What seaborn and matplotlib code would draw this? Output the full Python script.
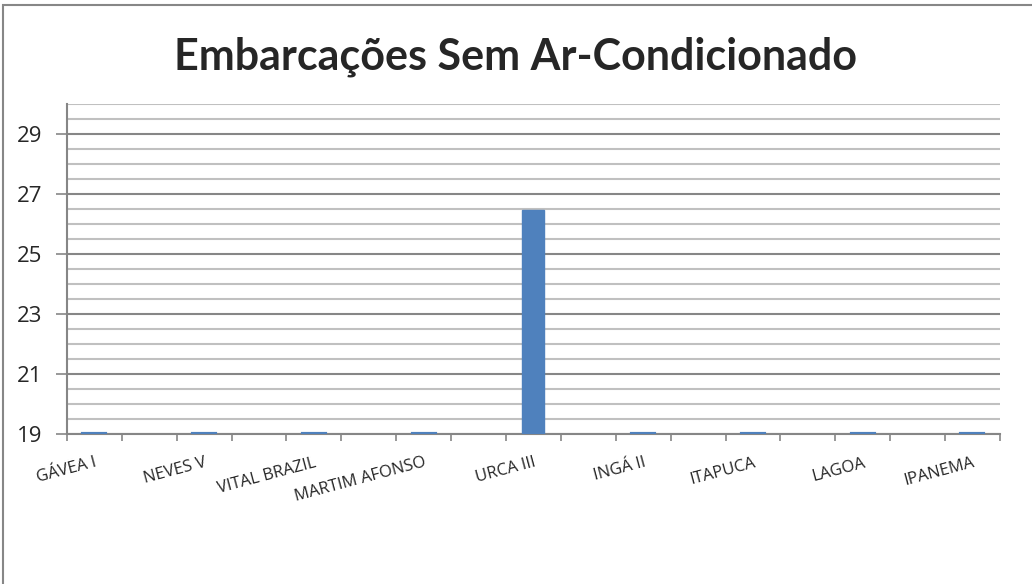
import numpy as np
import pandas as pd
import matplotlib
matplotlib.use("Agg")
import matplotlib.pyplot as plt
from matplotlib.ticker import MultipleLocator, FixedLocator
import seaborn as sns

# 17 category slots; Excel only printed every other label
labels = ["GÁVEA I", "", "NEVES V", "", "VITAL BRAZIL", "", "MARTIM AFONSO", "",
          "URCA III", "", "INGÁ II", "", "ITAPUCA", "", "LAGOA", "", "IPANEMA"]
values = [19.0, np.nan, 19.0, np.nan, 19.0, np.nan, 19.0, np.nan,
          26.45, np.nan, 19.0, np.nan, 19.0, np.nan, 19.0, np.nan, 19.0]
y_ticks = [19, 21, 23, 25, 27, 29]
y_min, y_max = 19, 30

df = pd.DataFrame({"slot": range(len(labels)), "valor": values})

sns.set_style("white")
plt.rcParams['font.family'] = ['Lato', 'DejaVu Sans']

fig = plt.figure(figsize=(10.32, 5.84), dpi=100)
ax = fig.add_axes([0.0649, 0.257, 0.904, 0.565])

sns.barplot(data=df, x="slot", y="valor", order=list(range(len(labels))),
            color="#4F81BD", saturation=1, width=0.4, ax=ax,
            edgecolor="#4F81BD", linewidth=1, errorbar=None, zorder=4)

# bars sitting on the axis minimum: thicker edge so they show as a thin line
for p in ax.patches:
    if p.get_height() <= y_min:
        p.set_linewidth(3)

ax.set_ylim(y_min, y_max)
ax.set_xlim(-0.5, len(labels) - 0.5)
ax.yaxis.set_major_locator(FixedLocator(y_ticks))
ax.yaxis.set_minor_locator(MultipleLocator(0.5))
ax.grid(which="major", axis="y", color="#868686", linewidth=1.5)
ax.grid(which="minor", axis="y", color="#c0c0c0", linewidth=1.5)
ax.set_axisbelow(True)

ax.set_xticks(range(len(labels)))
ax.set_xticklabels(labels, rotation=15, ha="right", rotation_mode="anchor",
                   fontsize=12, family=["Open Sans", "DejaVu Sans"])
ax.xaxis.set_minor_locator(FixedLocator(np.arange(-0.5, len(labels), 1)))
ax.tick_params(axis="x", which="major", length=0, pad=15)
ax.tick_params(axis="x", which="minor", length=5, width=1.2, color="#868686",
               direction="out", bottom=True)
ax.tick_params(axis="y", which="major", length=8, width=1.2, color="#868686",
               direction="out", left=True, labelsize=16, pad=10)
ax.tick_params(axis="y", which="minor", length=0)
for t in ax.get_yticklabels():
    t.set_family(["Open Sans", "DejaVu Sans"])

for s in ["top", "right"]:
    ax.spines[s].set_visible(False)
for s in ["left", "bottom"]:
    ax.spines[s].set_color("#868686")
    ax.spines[s].set_linewidth(1.5)
    ax.spines[s].set_zorder(2)

ax.set_xlabel("")
ax.set_ylabel("")

fig.text(0.5, 0.902, "Embarcações Sem Ar-Condicionado", ha="center", va="center",
         fontsize=31, fontweight="bold")

# chart area border (left and top visible)
fig.patches.append(plt.Rectangle((0.003, -0.01), 1.0, 1.001, transform=fig.transFigure,
                                 fill=False, edgecolor="#878787", linewidth=1.5))

fig.savefig("out.png", dpi=100)
